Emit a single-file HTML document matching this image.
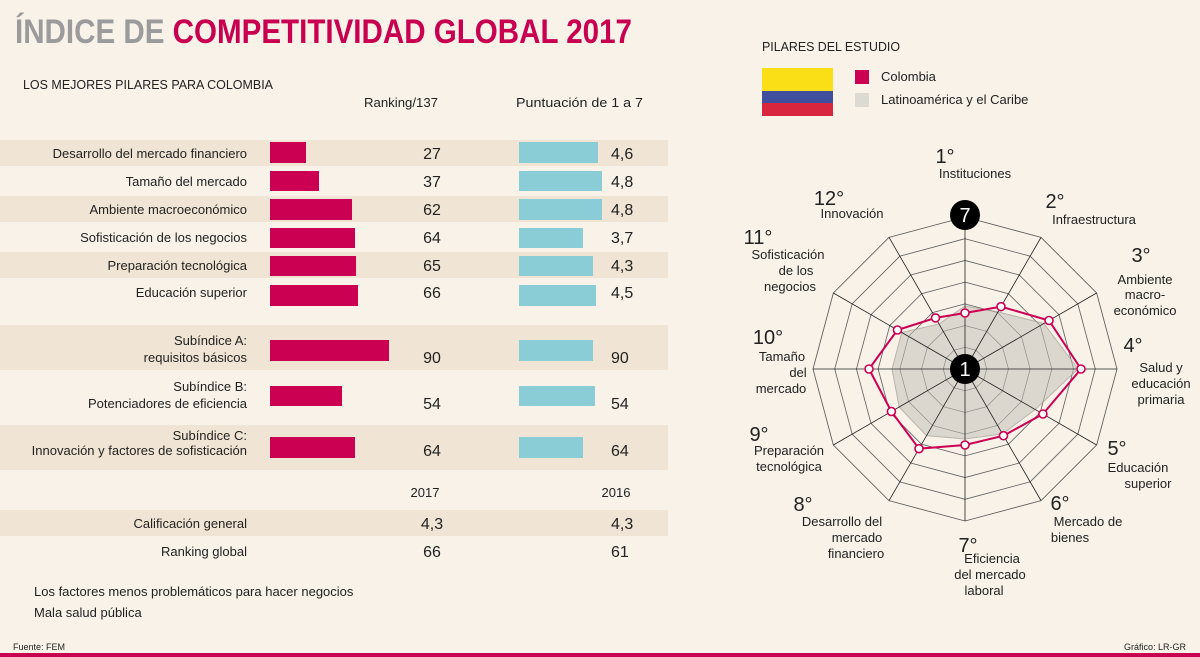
<!DOCTYPE html>
<html><head><meta charset="utf-8"><style>
html,body{margin:0;padding:0;background:#f8f2e9}
svg{display:block}
text{font-family:"Liberation Sans",sans-serif;fill:#222}
</style></head><body>
<svg width="1200" height="657" viewBox="0 0 1200 657" xmlns="http://www.w3.org/2000/svg">
<rect width="1200" height="657" fill="#f8f2e9"/>
<text x="15" y="43" font-size="34" font-weight="bold" textLength="617" lengthAdjust="spacingAndGlyphs"><tspan fill="#9b9b9b">ÍNDICE DE </tspan><tspan fill="#c8004f">COMPETITIVIDAD GLOBAL 2017</tspan></text>
<text x="23" y="89" font-size="13" textLength="250" lengthAdjust="spacingAndGlyphs">LOS MEJORES PILARES PARA COLOMBIA</text>
<text x="364" y="107" font-size="13" textLength="74" lengthAdjust="spacingAndGlyphs">Ranking/137</text>
<text x="516" y="107" font-size="13" textLength="127" lengthAdjust="spacingAndGlyphs">Puntuación de 1 a 7</text>
<g fill="#f0e5d4">
<rect x="0" y="140" width="668" height="26"/>
<rect x="0" y="196" width="668" height="26"/>
<rect x="0" y="252" width="668" height="26"/>
<rect x="0" y="325" width="668" height="45"/>
<rect x="0" y="425" width="668" height="45"/>
<rect x="0" y="510" width="668" height="26"/>
</g>
<g font-size="13" text-anchor="end">
<text x="247" y="158">Desarrollo del mercado financiero</text>
<text x="247" y="186">Tamaño del mercado</text>
<text x="247" y="214">Ambiente macroeconómico</text>
<text x="247" y="242">Sofisticación de los negocios</text>
<text x="247" y="270">Preparación tecnológica</text>
<text x="247" y="297">Educación superior</text>
<text x="247" y="345">Subíndice A:</text>
<text x="247" y="362">requisitos básicos</text>
<text x="247" y="391">Subíndice B:</text>
<text x="247" y="408">Potenciadores de eficiencia</text>
<text x="247" y="440">Subíndice C:</text>
<text x="247" y="455">Innovación y factores de sofisticación</text>
<text x="247" y="528">Calificación general</text>
<text x="247" y="556">Ranking global</text>
</g>
<g fill="#cc0052">
<rect x="270" y="142" width="36" height="21"/>
<rect x="270" y="171" width="49" height="20"/>
<rect x="270" y="199" width="82" height="21"/>
<rect x="270" y="228" width="85" height="20"/>
<rect x="270" y="256" width="86" height="20"/>
<rect x="270" y="285" width="88" height="21"/>
<rect x="270" y="340" width="119" height="21"/>
<rect x="270" y="386" width="72" height="20"/>
<rect x="270" y="437" width="85" height="21"/>
</g>
<g fill="#8acdd6">
<rect x="519" y="142" width="79" height="21"/>
<rect x="519" y="171" width="83" height="20"/>
<rect x="519" y="199" width="83" height="21"/>
<rect x="519" y="228" width="64" height="20"/>
<rect x="519" y="256" width="74" height="20"/>
<rect x="519" y="285" width="77" height="21"/>
<rect x="519" y="340" width="74" height="21"/>
<rect x="519" y="386" width="76" height="20"/>
<rect x="519" y="437" width="64" height="21"/>
</g>
<g font-size="16" text-anchor="middle">
<text x="432" y="159">27</text><text x="432" y="187">37</text><text x="432" y="215">62</text>
<text x="432" y="243">64</text><text x="432" y="271">65</text><text x="432" y="298">66</text>
<text x="432" y="363">90</text><text x="432" y="409">54</text><text x="432" y="456">64</text>
<text x="432" y="529">4,3</text><text x="432" y="557">66</text>
</g>
<g font-size="16">
<text x="611" y="159">4,6</text><text x="611" y="187">4,8</text><text x="611" y="215">4,8</text>
<text x="611" y="243">3,7</text><text x="611" y="271">4,3</text><text x="611" y="298">4,5</text>
<text x="611" y="363">90</text><text x="611" y="409">54</text><text x="611" y="456">64</text>
<text x="611" y="529">4,3</text><text x="611" y="557">61</text>
</g>
<g font-size="13" text-anchor="middle">
<text x="425" y="497">2017</text><text x="616" y="497">2016</text>
</g>
<text x="34" y="596" font-size="13">Los factores menos problemáticos para hacer negocios</text>
<text x="34" y="617" font-size="13">Mala salud pública</text>
<text x="13" y="650" font-size="9">Fuente: FEM</text>
<text x="1186" y="650" font-size="9" text-anchor="end">Gráfico: LR-GR</text>
<rect x="0" y="653" width="1200" height="4" fill="#c8004f"/>
<text x="762" y="51" font-size="13" textLength="138" lengthAdjust="spacingAndGlyphs">PILARES DEL ESTUDIO</text>
<rect x="762" y="68" width="71" height="23" fill="#fbdf16"/>
<rect x="762" y="91" width="71" height="12" fill="#3f4f9e"/>
<rect x="762" y="103" width="71" height="13" fill="#d8263f"/>
<rect x="855" y="70" width="14" height="14" fill="#cc0052"/>
<rect x="855" y="93" width="14" height="14" fill="#dddad3"/>
<text x="881" y="81" font-size="13">Colombia</text>
<text x="881" y="104" font-size="13">Latinoamérica y el Caribe</text>
<g id="radar"></g>
<g font-size="13" text-anchor="middle">
<text x="945" y="163" font-size="20">1°</text><text x="975" y="178">Instituciones</text>
<text x="1055" y="208" font-size="20">2°</text><text x="1094" y="224">Infraestructura</text>
<text x="1141" y="262" font-size="20">3°</text><text x="1145" y="284">Ambiente</text><text x="1145" y="299">macro-</text><text x="1145" y="315">económico</text>
<text x="1133" y="352" font-size="20">4°</text><text x="1161" y="372">Salud y</text><text x="1161" y="388">educación</text><text x="1161" y="404">primaria</text>
<text x="1117" y="455" font-size="20">5°</text><text x="1138" y="472">Educación</text><text x="1148" y="488">superior</text>
<text x="1060" y="510" font-size="20">6°</text><text x="1088" y="526">Mercado de</text><text x="1070" y="542">bienes</text>
<text x="968" y="552" font-size="20">7°</text><text x="992" y="563">Eficiencia</text><text x="990" y="579">del mercado</text><text x="984" y="595">laboral</text>
<text x="803" y="511" font-size="20">8°</text><text x="842" y="526">Desarrollo del</text><text x="857" y="542">mercado</text><text x="856" y="558">financiero</text>
<text x="759" y="441" font-size="20">9°</text><text x="789" y="455">Preparación</text><text x="789" y="471">tecnológica</text>
<text x="768" y="344" font-size="20">10°</text><text x="782" y="361">Tamaño</text><text x="798" y="377">del</text><text x="781" y="393">mercado</text>
<text x="758" y="244" font-size="20">11°</text><text x="788" y="259">Sofisticación</text><text x="796" y="275">de los</text><text x="790" y="291">negocios</text>
<text x="829" y="205" font-size="20">12°</text><text x="852" y="218">Innovación</text>
</g>
<script>
(function(){
var cx=965,cy=369,R=152,ns="http://www.w3.org/2000/svg",g=document.getElementById("radar");
function pt(i,r){var a=(i*30-90)*Math.PI/180;return [cx+r*Math.cos(a),cy+r*Math.sin(a)];}
function poly(rs){return rs.map(function(r,i){return pt(i,r).join(",");}).join(" ");}
function el(n,at){var e=document.createElementNS(ns,n);for(var k in at)e.setAttribute(k,at[k]);g.appendChild(e);return e;}
var latam=[63,66,91,113,81,75,70,77,76,73,73,52];
var col=[56,72,97,116,90,77,76,92,85,96,78,59];
for(var k=1;k<=7;k++){var r=R*k/7;var a=[];for(var i=0;i<12;i++)a.push(r);el("polygon",{points:poly(a),fill:"none",stroke:k==7?"#555":"#666","stroke-width":"0.8"});}
el("polygon",{points:poly(latam),fill:"#d6d1c9","fill-opacity":"0.85",stroke:"#b8b3ab","stroke-width":"1"});
for(var k=1;k<=7;k++){var r=R*k/7;var a=[];for(var i=0;i<12;i++)a.push(r);el("polygon",{points:poly(a),fill:"none",stroke:"#666","stroke-width":"0.6","stroke-opacity":"0.6"});}
for(var i=0;i<12;i++){var p=pt(i,R);el("line",{x1:cx,y1:cy,x2:p[0],y2:p[1],stroke:"#222","stroke-width":"0.8"});}
el("polygon",{points:poly(col),fill:"none",stroke:"#cc0052","stroke-width":"2"});
for(var i=0;i<12;i++){var p=pt(i,col[i]);el("circle",{cx:p[0],cy:p[1],r:"4",fill:"#fff",stroke:"#cc0052","stroke-width":"1.6"});}
el("circle",{cx:cx,cy:cy,r:"15",fill:"#000"});
el("circle",{cx:cx,cy:215,r:"15",fill:"#000"});
var t=el("text",{x:cx,y:cy+7,"text-anchor":"middle","font-size":"20"});t.textContent="1";t.style.fill="#fff";
t=el("text",{x:cx,y:222,"text-anchor":"middle","font-size":"20"});t.textContent="7";t.style.fill="#fff";
})();
</script>
</svg>
</body></html>
